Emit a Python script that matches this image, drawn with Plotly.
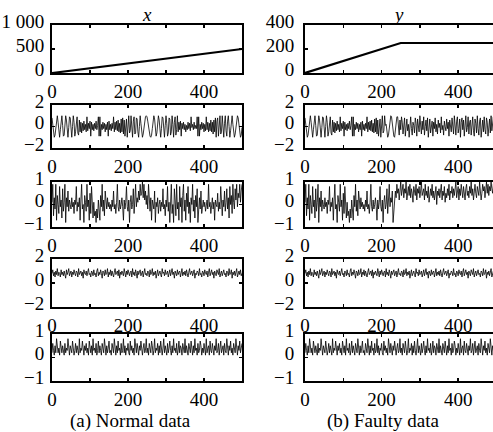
import plotly.graph_objects as go

# ---------------- data ----------------
t = list(range(0, 501, 2))  # sample index 0..500, every 2nd sample

ramp_t = [0, 500]
ramp_x = [0, 500]
ramp_y_t = [0, 250, 500]
ramp_y = [0, 250, 250]

x_var2 = (
    [0.8, 0.2, -0.6, -1.0, -0.8, 0.0, 0.8, 1.0, 0.4, -0.6, -1.0]
    + [-0.3, 0.7, 1.0, 0.1, -0.9, -0.8, 0.3, 1.0, 0.6, -0.5, -1.0, -0.1, 0.9, 0.8, -0.4, -1.0, 0.0, 1.0, 0.4, -0.9, -0.5, 0.8, 0.9, -0.6, -0.8]
    + [0.6, -0.5, 0.4, -0.6, 0.3, -0.4, 0.5, -0.3, 0.2, -0.5, 0.9, -0.4, 0.3, -0.2, 0.5, -0.9, 0.4, -0.3, 0.2, -0.4, 0.3, -0.2, 0.5, -0.3, 0.1]
    + [0.9, -0.9, 0.9, -0.9]
    + [0.2, -0.3, 0.4, -0.2, 0.3, -0.5, 0.2, -0.3, 0.4, -0.9, 0.5, -0.3, 0.2, -0.4, 0.3, -0.2, 0.9, -0.5, 0.4, -0.3, 0.5, -0.4, 0.6, -0.5, 0.3, -0.6, 0.7, -0.5, 0.8, -0.7, 0.6]
    + [-0.9, 0.6, 0.7, -1.0, 0.2, 1.0, -0.6, -0.4, 1.0, 0.1, -1.0, 0.5, 0.9, -0.7, -0.6, 0.8, 0.7, -0.5, -1.0, 0.0, 1.0]
    + [0.3, -0.7, -1.0, -0.7, -0.1, 0.5, 0.9, 1.0, 0.9, 0.5, -0.1, -0.6, -0.9, -1.0, -0.8, -0.2, 0.5, 1.0, 0.7, -0.2, -0.9]
    + [-0.6, 0.4, 1.0, 0.6, -0.5, -1.0, -0.2, 0.9, 0.8, -0.4, -1.0, 0.1, 1.0, 0.3, -0.9, -0.6, 0.8, 0.7, -0.8, -0.5, 1.0, 0.2, -1.0, 0.4, 0.9, -0.8, -0.3, 1.0]
    + [-0.5, 0.4, -0.3, 0.5, -0.9, 0.3, -0.2, 0.4, -0.3, 0.2, -0.5, 0.1, -0.3, 0.4, -0.2, 0.3, -0.4, 0.9, -0.1, 0.2, -0.3, 0.4, -0.2, 0.1, -0.2]
    + [0.9, -0.9, 0.9, -0.9]
    + [0.2, -0.3, 0.4, -0.2, 0.3, -0.5, 0.2, -0.4, 0.9, -0.3, 0.4, -0.5, 0.3, -0.4, 0.6, -0.5, 0.4, -0.7, 0.6, -0.5, 0.8]
    + [-1.0, 0.5, 0.8, -0.9, 0.1, 1.0, -0.7, -0.5, 1.0, 0.2, -1.0, 0.3, 1.0, -0.4, -0.9, 0.5, 1.0, 0.0, -1.0, -0.4, 0.8, 1.0, 0.2, -0.8, -1.0]
    + [-0.7, 0.0, 0.7, 1.0, 0.8, 0.2, -0.5, -1.0, -0.8, -0.1]
)

y_var2_tail = (
    [0.2, -0.6, -1.0, -0.8, -0.1, 0.6, 1.0, 0.9, 0.3, -0.4, -0.9, -1.0, -0.5, 0.3, 0.9, 0.9, 0.2]
    + [-0.8, 0.6, -0.3, 0.9, 0.4, -0.7, 0.1, 0.8, -0.9, 0.5, 0.7, -0.4, 0.2, -1.0, 0.6, 0.9, -0.2, -0.8, 0.4, 0.1,
       -0.6, 0.8, 0.3, -0.9, 0.7, -0.1, -0.5, 1.0, 0.2, -0.7, 0.5, -0.3, 0.9, -0.8, 0.0, 0.6, -0.4, 0.8, -1.0, 0.3,
       0.7, -0.6, 0.1, 0.5, -0.9, 0.4, -0.2, 0.8, -0.5, 0.2, -0.7, 0.6, -0.1, 0.3, -0.6, 0.9, -0.3, 0.1, -0.8, 0.5,
       0.0, -0.4, 0.7, -0.2, 0.4, -0.9, 0.6, 0.2, -0.5, 0.8, -0.3, -0.7, 1.0, 0.3, -0.8, 0.5, 0.9, -0.6, -0.2, 0.7,
       -1.0, 0.4, 0.8, -0.3, 0.6, -0.9, 0.2, 1.0, -0.5, -0.1, 0.9, -0.7, 0.4, 0.6, -0.8, 0.1, 0.9, -0.4, -0.9, 0.7,
       0.3, -0.6, 1.0, -0.2, -0.8, 0.5, 0.8, -1.0, 0.2, 0.6, -0.5, 0.9, -0.3, -0.7, 0.8, 0.4, -0.9, 0.1, 0.7, -0.6,
       1.0, -0.4, 0.3, 0.9, -0.8, -0.2, 0.6, -1.0]
)
y_var2 = x_var2[:106] + y_var2_tail

x_var3 = (
    [0.1, 0.9, -0.5, 0.3, -0.2, 0.9, -0.7, 0.4, 0.0, -0.4, 0.8, -0.1, 0.2, -0.6, 0.7, -0.3, 0.1, 0.9, -0.8, 0.3, -0.1, 0.6, -0.3, 0.2, 0.0]
    + [-0.2, 0.3, -0.1, 0.1, -0.4, 0.2, 0.0, 0.8, -0.3, 0.1, -0.1, 0.3, -0.7, 0.2, 0.9, -0.2, 0.0, -0.8, 0.4, 0.1, -0.3, 0.9, -0.1, 0.2, -0.7]
    + [0.5, -0.4, 0.8, -0.2, -0.6, 0.1, -0.5, -0.3, -0.8, -0.2, -0.6, 0.2, -0.4, -0.7, 0.4, -0.1, 0.9, -0.3, 0.2, -0.5, 0.6, 0.0, -0.2, 0.3, -0.1]
    + [0.1, -0.2, 0.0, -0.3, 0.2, -0.1, 0.6, -0.2, 0.0, -0.4, 0.1, 0.9, -0.1, -0.3, 0.2, -0.2, 0.0, 0.3, -0.1, -0.7, 0.2, -0.2, 0.1, 0.8, -0.1]
    + [-0.3, 0.2, -0.8, 0.1, 0.4, -0.2, 0.0, 0.7, -0.4, 0.2, 0.9, -0.1, 0.3, 0.1, 0.6, 0.2, 0.9, 0.4, 0.5, 1.0, 0.3, 0.9, 0.2, 0.6, 0.0]
    + [0.4, -0.2, 0.9, 0.1, -0.3, 0.3, -0.7, 0.2, 0.0, -0.2, 0.6, -0.8, 0.1, -0.1, 0.3, -0.4, 0.0, 0.2, -0.3, 0.1, -0.1, 0.7, -0.2, 0.0, -0.5]
    + [0.2, -0.1, 0.8, -0.3, 0.1, -0.8, 0.3, 0.9, -0.4, 0.0, -0.8, 0.7, 0.2, -0.5, 0.9, -0.2, 0.1, -0.7, 0.8, -0.1, 0.3, -0.8, 0.4, 0.9, -0.3]
    + [0.2, -0.7, 0.5, -0.1, 0.8, -0.4, 0.1, -0.8, 0.3, 0.0, 0.9, -0.3, 0.2, -0.6, 0.4, -0.1, 0.7, -0.8, 0.1, 0.3, -0.2, 0.6, -0.4, 0.0, 0.2]
    + [-0.1, 0.1, -0.3, 0.0, 0.2, -0.2, 0.9, -0.1, 0.1, -0.4, 0.0, 0.3, -0.2, 0.1, -0.7, 0.2, 0.0, -0.1, 0.5, -0.3, 0.1, -0.2, 0.8, 0.0, -0.5]
    + [0.2, -0.1, 0.6, -0.3, 0.1, 0.7, -0.2, 0.3, -0.6, 0.8, 0.0, 0.4, -0.4, 0.9, 0.1, -0.2, 0.7, 0.2, 0.9, -0.1, 0.5, 0.3, 0.9, 0.1, 0.6, 0.9]
)

y_var3_tail = [
    -0.8, -0.3, 0.2, 0.6, 0.3, 0.9, 0.5, 0.7, 0.2, 0.8, 1.0, 0.4, 0.6, 0.9, 0.3, 0.7, 0.5, 1.0, 0.2, 0.6,
    0.8, 0.4, 0.9, 0.3, 0.7, 0.5, 0.1, 0.8, 0.6, 0.4, 0.9, 0.2, 0.7, 0.5, 0.8, 0.3, 0.6, 1.0, 0.4, 0.5,
    0.7, 0.2, 0.9, 0.4, 0.6, 0.3, 0.8, 0.1, 0.5, 0.7, 0.4, 0.9, 0.3, 0.6, 0.2, 0.5, 0.8, 0.0, 0.6, 0.4,
    0.7, 0.3, 0.5, 0.9, 0.2, 0.6, 0.4, 0.8, 0.1, 0.5, 0.3, 0.7, 0.4, 0.9, 0.2, 0.6, 0.5, 0.8, 0.3, 0.7,
    0.4, 0.6, 1.0, 0.3, 0.5, 0.8, 0.2, 0.7, 0.4, 0.9, 0.6, 0.3, 0.8, 0.5, 0.2, 0.7, 0.9, 0.4, 0.6, 0.3,
    0.8, 0.5, 1.0, 0.4, 0.7, 0.2, 0.6, 0.9, 0.5, 0.3, 0.8, 0.6, 0.4, 1.0, 0.7, 0.2, 0.5, 0.9, 0.6, 0.8,
    0.3, 0.7, 1.0, 0.5, 0.9, 0.4, 0.8, 0.6, 1.0, 0.7, 0.5, 0.9, 0.6, 1.0, 0.8, 0.7,
]
y_var3 = x_var3[:115] + y_var3_tail

x_var4 = [
    0.8, 1.1, 0.6, 0.9, 0.5, 1.0, 0.7, 1.2, 0.6, 0.9, 0.8, 0.5, 1.1, 0.7, 0.9, 0.6, 1.0, 0.8, 0.4, 1.1, 0.7, 0.9, 1.2, 0.6, 0.8,
    1.0, 0.5, 0.9, 0.7, 1.1, 0.8, 0.6, 1.0, 0.9, 0.5, 1.2, 0.7, 0.8, 1.0, 0.6, 0.9, 0.4, 1.1, 0.8, 0.7, 1.0, 0.6, 0.9, 1.2, 0.7,
    0.8, 0.5, 1.0, 0.9, 0.6, 1.1, 0.7, 0.8, 0.5, 1.0, 1.2, 0.6, 0.9, 0.7, 1.1, 0.8, 0.4, 1.0, 0.9, 0.6, 1.1, 0.7, 0.8, 1.2, 0.5,
    0.9, 0.7, 1.1, 0.6, 1.0, 0.8, 0.5, 0.9, 1.2, 0.7, 0.8, 1.0, 0.6, 1.1, 0.4, 0.9, 0.7, 1.0, 0.8, 0.6, 1.2, 0.9, 0.5, 1.0, 0.7,
    1.1, 0.8, 0.6, 0.9, 1.0, 0.5, 1.2, 0.7, 0.9, 0.6, 1.1, 0.8, 0.4, 1.0, 0.7, 0.9, 1.1, 0.6, 0.8, 1.0, 0.5, 0.9, 1.2, 0.7, 0.8,
    0.6, 1.0, 0.9, 0.5, 1.1, 0.7, 0.8, 1.2, 0.6, 0.9, 0.7, 1.0, 0.4, 0.8, 1.1, 0.6, 0.9, 1.0, 0.7, 0.5, 1.2, 0.8, 0.9, 0.6, 1.1,
    0.7, 0.8, 1.0, 0.5, 0.9, 1.1, 0.6, 0.8, 1.2, 0.7, 0.9, 0.4, 1.0, 0.8, 0.6, 1.1, 0.7, 0.9, 1.0, 0.5, 0.8, 1.2, 0.6, 0.9, 0.7,
    1.0, 0.6, 1.1, 0.8, 0.5, 0.9, 1.2, 0.7, 0.8, 1.0, 0.6, 0.9, 1.1, 0.4, 0.8, 0.7, 1.0, 0.9, 0.6, 1.2, 0.7, 0.8, 0.5, 1.0, 0.9,
    0.6, 1.1, 0.8, 0.7, 1.0, 0.5, 0.9, 1.2, 0.6, 0.8, 1.1, 0.7, 0.9, 0.4, 1.0, 0.8, 0.6, 1.1, 0.9, 0.7, 1.2, 0.5, 0.8, 1.0, 0.6,
    0.9, 1.1, 0.7, 0.8, 0.5, 1.0, 0.9, 0.6, 1.2, 0.7, 0.8, 1.1, 0.4, 0.9, 0.7, 1.0, 0.6, 0.8, 1.2, 0.5, 0.9, 1.0, 0.7, 1.1, 0.6, 0.8,
]
y_var4 = list(x_var4)

x_var5 = [
    0.2, 0.6, 0.3, 0.1, 0.5, 0.2, 0.8, 0.3, 0.2, 0.4, 0.1, 0.7, 0.3, 0.2, 0.5, 0.3, 0.1, 0.6, 0.2, 0.4, 0.3, 0.8, 0.2, 0.1, 0.5,
    0.3, 0.2, 0.7, 0.4, 0.1, 0.3, 0.6, 0.2, 0.5, 0.3, 0.1, 0.8, 0.2, 0.4, 0.3, 0.7, 0.2, 0.1, 0.5, 0.3, 0.6, 0.2, 0.4, 0.1, 0.7,
    0.3, 0.2, 0.5, 0.1, 0.8, 0.3, 0.4, 0.2, 0.6, 0.1, 0.3, 0.7, 0.2, 0.5, 0.3, 0.1, 0.6, 0.4, 0.2, 0.8, 0.3, 0.1, 0.5, 0.2, 0.4,
    0.7, 0.2, 0.3, 0.1, 0.6, 0.4, 0.2, 0.8, 0.3, 0.1, 0.5, 0.2, 0.7, 0.3, 0.4, 0.1, 0.6, 0.2, 0.3, 0.8, 0.2, 0.5, 0.1, 0.4, 0.3,
    0.6, 0.2, 0.1, 0.7, 0.3, 0.5, 0.2, 0.4, 0.1, 0.8, 0.3, 0.2, 0.6, 0.4, 0.1, 0.5, 0.3, 0.7, 0.2, 0.1, 0.4, 0.6, 0.2, 0.3, 0.8,
    0.2, 0.4, 0.1, 0.6, 0.3, 0.2, 0.7, 0.5, 0.1, 0.3, 0.8, 0.2, 0.4, 0.3, 0.6, 0.1, 0.5, 0.2, 0.7, 0.3, 0.1, 0.4, 0.8, 0.2, 0.5,
    0.3, 0.1, 0.6, 0.2, 0.4, 0.7, 0.3, 0.1, 0.5, 0.2, 0.8, 0.3, 0.4, 0.2, 0.6, 0.1, 0.3, 0.7, 0.2, 0.5, 0.4, 0.1, 0.6, 0.3, 0.2,
    0.8, 0.2, 0.5, 0.3, 0.1, 0.6, 0.4, 0.2, 0.7, 0.3, 0.1, 0.5, 0.2, 0.8, 0.3, 0.4, 0.1, 0.6, 0.2, 0.3, 0.7, 0.5, 0.1, 0.4, 0.2,
    0.6, 0.3, 0.1, 0.8, 0.2, 0.4, 0.5, 0.1, 0.7, 0.3, 0.2, 0.6, 0.4, 0.1, 0.5, 0.3, 0.8, 0.2, 0.3, 0.6, 0.1, 0.4, 0.7, 0.2, 0.3,
    0.5, 0.1, 0.6, 0.3, 0.2, 0.8, 0.4, 0.1, 0.5, 0.3, 0.7, 0.2, 0.4, 0.1, 0.6, 0.3, 0.2, 0.8, 0.4, 0.1, 0.5, 0.3, 0.7, 0.2, 0.4, 0.6,
]
y_var5 = list(x_var5)

col_titles = ["x", "y"]
captions = ["(a) Normal data", "(b) Faulty data"]

y_ranges = [None, [-2, 2], [-1, 1], [-2, 2], [-1, 1]]
y_ticks = [None, [-2, 0, 2], [-1, 0, 1], [-2, 0, 2], [-1, 0, 1]]
row1_ticks = {0: ([0, 500, 1000], ["0", "500", "1 000"], [0, 1000]),
              1: ([0, 200, 400], ["0", "200", "400"], [0, 400])}
x_tickvals = [0, 100, 200, 300, 400, 500]
x_ticktext = ["0", "", "200", "", "400", ""]

# ---------------- layout geometry ----------------
W, H = 493, 432
x_dom = [[52 / W, 242 / W], [305 / W, 1.0]]
x_rng = [[0, 500], [0, 491]]
rows_px = [(25, 73), (105, 148), (182, 227), (259, 307), (334, 381)]

FONT = "Liberation Serif, Times New Roman, serif"
FS = 19

fig = go.Figure()
layout = dict(width=W, height=H, margin=dict(l=0, r=0, t=0, b=0, autoexpand=False),
              template="none",
              paper_bgcolor="white", plot_bgcolor="white", showlegend=False,
              font=dict(family=FONT, size=FS, color="black"))

series = {
    0: (x_var2, x_var3, x_var4, x_var5),
    1: (y_var2, y_var3, y_var4, y_var5),
}

for r in range(5):
    for c in range(2):
        k = r * 2 + c + 1
        xa = "x" if k == 1 else f"x{k}"
        ya = "y" if k == 1 else f"y{k}"
        if r == 0:
            if c == 0:
                fig.add_trace(go.Scatter(x=ramp_t, y=ramp_x, mode="lines",
                                         line=dict(color="black", width=2.2),
                                         xaxis=xa, yaxis=ya))
            else:
                fig.add_trace(go.Scatter(x=ramp_y_t, y=ramp_y, mode="lines",
                                         line=dict(color="black", width=2.2),
                                         xaxis=xa, yaxis=ya))
            tv, tt, yr = row1_ticks[c]
        else:
            data = series[c][r - 1]
            fig.add_trace(go.Scatter(x=t, y=data, mode="lines",
                                     line=dict(color="black", width=0.8),
                                     xaxis=xa, yaxis=ya))
            tv = y_ticks[r]
            tt = [str(v).replace("-", "\u2212") for v in tv]
            yr = y_ranges[r]
        top, bot = rows_px[r]
        ydom = [1 - bot / H, 1 - top / H]
        xkey = "xaxis" if k == 1 else f"xaxis{k}"
        ykey = "yaxis" if k == 1 else f"yaxis{k}"
        layout[xkey] = dict(domain=x_dom[c], range=x_rng[c], anchor=ya,
                            tickvals=x_tickvals, ticktext=x_ticktext,
                            ticks="inside", ticklen=3, tickwidth=1.5, tickcolor="black",
                            showline=True, linewidth=2, linecolor="black",
                            mirror="ticks", showgrid=False, zeroline=False,
                            automargin=False,
                            tickfont=dict(family=FONT, size=FS, color="black"))
        layout[ykey] = dict(domain=ydom, range=yr, anchor=xa,
                            tickvals=tv, ticktext=tt,
                            ticks="inside", ticklen=3, tickwidth=1.5, tickcolor="black",
                            showline=True, linewidth=2, linecolor="black",
                            mirror="ticks" if c == 0 else False,
                            showgrid=False, zeroline=False, automargin=False,
                            ticklabelshift=-4,
                            ticklabelstandoff=2 if c == 0 else 5,
                            tickfont=dict(family=FONT, size=FS, color="black"))

annotations = []
for c in range(2):
    cx = (147 if c == 0 else 398) / W
    annotations.append(dict(text=f"<i>{col_titles[c]}</i>", x=cx, y=1 - 14 / H,
                            xref="paper", yref="paper", showarrow=False,
                            xanchor="center", yanchor="middle",
                            font=dict(family=FONT, size=FS, color="black")))
    capx = (130 if c == 0 else 383) / W
    annotations.append(dict(text=captions[c], x=capx, y=1 - 421 / H,
                            xref="paper", yref="paper", showarrow=False,
                            xanchor="center", yanchor="middle",
                            font=dict(family=FONT, size=FS, color="black")))
layout["annotations"] = annotations

fig.update_layout(**layout)
fig.write_html("out.html",
               config={"displayModeBar": False, "staticPlot": True},
               post_script="document.body.style.margin='0';document.body.style.overflow='hidden';")
